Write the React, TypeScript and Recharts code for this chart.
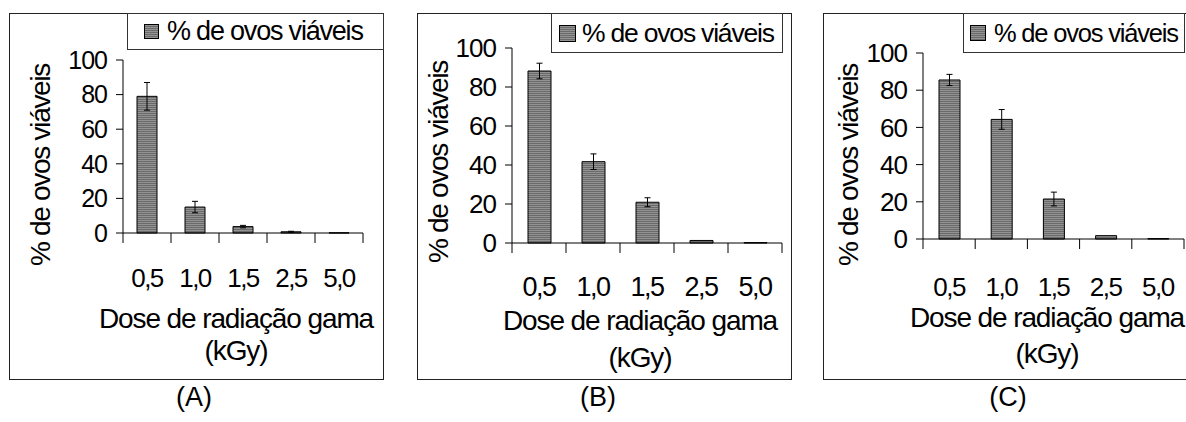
import { BarChart, Bar, XAxis, YAxis, ErrorBar, Legend, Label } from "recharts";

// doses (kGy) and % de ovos viáveis for each panel
const doses = ["0,5", "1,0", "1,5", "2,5", "5,0"];
const viaveisA = [79, 15, 3.7, 0.7, 0.1];
const erroA = [8, 3.3, 0.7, 0.3, 0];
const viaveisB = [88.2, 41.7, 20.9, 1.3, 0.2];
const erroB = [4, 4, 2.3, 0, 0];
const viaveisC = [85.5, 64.3, 21.5, 1.8, 0.2];
const erroC = [3, 5.3, 3.7, 0, 0];
const yTicks = [0, 20, 40, 60, 80, 100];

const FONT = "'Liberation Sans', Arial, sans-serif";
const SERIES = "% de ovos viáveis";

interface PanelCfg {
  id: string;
  caption: string;
  values: number[];
  errors: number[];
  frame: { x: number; y: number; w: number; h: number };
  plot: { left: number; top: number; right: number; bottom: number };
  barSize: number;
  tickFont: number;
  tickY: number;
  yTickFont: number;
  labelFont: number;
  titleFont: number;
  yLabelX: number;
  yLabelY: number;
  titleX: number;
  titleY1: number;
  titleY2: number;
  legend: { x: number; y: number; w: number; h: number; pad: number; sw: number; gap: number; font: number };
  captionX: number;
}

const panels: PanelCfg[] = [
  {
    id: "A",
    caption: "(A)",
    values: viaveisA,
    errors: erroA,
    frame: { x: 9, y: 13, w: 375, h: 367 },
    plot: { left: 123, top: 60, right: 363, bottom: 233 },
    barSize: 20,
    tickFont: 26,
    tickY: 278,
    yTickFont: 25,
    labelFont: 28,
    titleFont: 28,
    yLabelX: 40,
    yLabelY: 165,
    titleX: 236,
    titleY1: 318,
    titleY2: 350,
    legend: { x: 127, y: 13, w: 257, h: 37, pad: 16, sw: 15, gap: 8, font: 27 },
    captionX: 194,
  },
  {
    id: "B",
    caption: "(B)",
    values: viaveisB,
    errors: erroB,
    frame: { x: 417, y: 13, w: 375, h: 367 },
    plot: { left: 512, top: 48, right: 782, bottom: 243 },
    barSize: 23,
    tickFont: 27,
    tickY: 287,
    yTickFont: 26,
    labelFont: 28,
    titleFont: 28,
    yLabelX: 438,
    yLabelY: 162,
    titleX: 640,
    titleY1: 320,
    titleY2: 357,
    legend: { x: 551, y: 13, w: 232, h: 40, pad: 7, sw: 17, gap: 6, font: 26.5 },
    captionX: 598,
  },
  {
    id: "C",
    caption: "(C)",
    values: viaveisC,
    errors: erroC,
    frame: { x: 823, y: 13, w: 380, h: 367 },
    plot: { left: 923, top: 53, right: 1184, bottom: 239 },
    barSize: 21,
    tickFont: 26,
    tickY: 287,
    yTickFont: 26,
    labelFont: 28,
    titleFont: 28,
    yLabelX: 848,
    yLabelY: 165,
    titleX: 1047,
    titleY1: 317,
    titleY2: 353,
    legend: { x: 963, y: 13, w: 222, h: 40, pad: 6, sw: 16, gap: 8, font: 25.5 },
    captionX: 1008,
  },
];

function Stripes({ id }: { id: string }) {
  return (
    <pattern id={id} width="4" height="2" patternUnits="userSpaceOnUse">
      <rect width="4" height="2" fill="#939393" />
      <rect width="4" height="1" fill="#6a6a6a" />
    </pattern>
  );
}

function Panel({ cfg }: { cfg: PanelCfg }) {
  const { frame, plot } = cfg;
  const data = doses.map((d, i) => ({ dose: d, pct: cfg.values[i], err: cfg.errors[i] }));
  const axisH = 40;
  const marginTop = plot.top - frame.y;
  const yAxisW = plot.left - frame.x;
  const marginRight = frame.x + frame.w - plot.right;
  const marginBottom = frame.y + frame.h - plot.bottom - axisH;
  const axisY = plot.bottom - frame.y;
  const band = (plot.right - plot.left) / doses.length;
  const patId = `stripes-${cfg.id}`;

  const renderTick = (props: any) => {
    const { x, payload, index } = props;
    return (
      <g>
        <line x1={x - band / 2} y1={axisY} x2={x - band / 2} y2={axisY + 10} stroke="#000" />
        {index === doses.length - 1 && (
          <line x1={x + band / 2} y1={axisY} x2={x + band / 2} y2={axisY + 10} stroke="#000" />
        )}
        <text
          x={x}
          y={cfg.tickY - frame.y}
          textAnchor="middle"
          dominantBaseline="central"
          fontSize={cfg.tickFont}
          fontFamily={FONT}
          letterSpacing={-1.5}
          fill="#000"
        >
          {payload.value}
        </text>
      </g>
    );
  };

  const legendContent = () => {
    const lg = cfg.legend;
    return (
      <div
        style={{
          width: lg.w,
          height: lg.h,
          boxSizing: "border-box",
          border: "1px solid #333",
          background: "#fff",
          display: "flex",
          alignItems: "center",
          paddingLeft: lg.pad,
          fontFamily: FONT,
          fontSize: lg.font,
          letterSpacing: -1.2,
          color: "#000",
          whiteSpace: "nowrap",
        }}
      >
        <svg width={lg.sw} height={lg.sw} style={{ marginRight: lg.gap, flex: "none" }}>
          <rect x={0.5} y={0.5} width={lg.sw - 1} height={lg.sw - 1} fill={`url(#${patId})`} stroke="#000" />
        </svg>
        <span>{SERIES}</span>
      </div>
    );
  };

  return (
    <>
      <div
        style={{
          position: "absolute",
          left: frame.x,
          top: frame.y,
          width: frame.w,
          height: frame.h,
          boxSizing: "border-box",
          border: "1px solid #222",
        }}
      />
      <div style={{ position: "absolute", left: frame.x, top: frame.y }}>
        <BarChart
          width={frame.w}
          height={frame.h}
          data={data}
          margin={{ top: marginTop, right: marginRight, bottom: marginBottom, left: 0 }}
        >
          <defs>
            <Stripes id={patId} />
          </defs>
          <XAxis
            dataKey="dose"
            height={axisH}
            axisLine={{ stroke: "#000" }}
            tickLine={false}
            tick={renderTick}
            interval={0}
          >
            <Label
              content={() => (
                <g fontFamily={FONT} fontSize={cfg.titleFont} fill="#000" letterSpacing={-1.1}>
                  <text x={cfg.titleX - frame.x} y={cfg.titleY1 - frame.y} textAnchor="middle" dominantBaseline="central">
                    Dose de radiação gama
                  </text>
                  <text x={cfg.titleX - frame.x} y={cfg.titleY2 - frame.y} textAnchor="middle" dominantBaseline="central">
                    (kGy)
                  </text>
                </g>
              )}
            />
          </XAxis>
          <YAxis
            width={yAxisW}
            domain={[0, 100]}
            ticks={yTicks}
            interval={0}
            axisLine={{ stroke: "#000" }}
            tickLine={{ stroke: "#000" }}
            tickSize={7}
            tickMargin={9}
            tick={{ fill: "#000", fontSize: cfg.yTickFont, fontFamily: FONT, letterSpacing: -1 }}
          >
            <Label
              content={() => {
                const lx = cfg.yLabelX - frame.x;
                const ly = cfg.yLabelY - frame.y;
                return (
                  <text
                    x={lx}
                    y={ly}
                    transform={`rotate(-90 ${lx} ${ly})`}
                    textAnchor="middle"
                    dominantBaseline="central"
                    fontFamily={FONT}
                    fontSize={cfg.labelFont}
                    letterSpacing={-1.3}
                    fill="#000"
                  >
                    {SERIES}
                  </text>
                );
              }}
            />
          </YAxis>
          <Legend
            layout="horizontal"
            align="center"
            verticalAlign="middle"
            content={legendContent}
            wrapperStyle={{
              position: "absolute",
              left: cfg.legend.x - frame.x,
              top: cfg.legend.y - frame.y,
              width: cfg.legend.w,
              height: cfg.legend.h,
              margin: 0,
              padding: 0,
            }}
          />
          <Bar
            dataKey="pct"
            name={SERIES}
            barSize={cfg.barSize}
            fill={`url(#${patId})`}
            stroke="#000"
            strokeWidth={1}
            isAnimationActive={false}
          >
            <ErrorBar dataKey="err" width={3} stroke="#000" strokeWidth={1} direction="y" />
          </Bar>
        </BarChart>
      </div>
      <div
        style={{
          position: "absolute",
          left: cfg.captionX - 40,
          width: 80,
          top: 397 - 16,
          height: 32,
          lineHeight: "32px",
          textAlign: "center",
          fontFamily: FONT,
          fontSize: 27,
          color: "#000",
        }}
      >
        {cfg.caption}
      </div>
    </>
  );
}

export default function App() {
  return (
    <div
      style={{
        position: "absolute",
        left: 0,
        top: 0,
        width: 1186,
        height: 422,
        overflow: "hidden",
        background: "#fff",
      }}
    >
      {panels.map((p) => (
        <Panel key={p.id} cfg={p} />
      ))}
    </div>
  );
}
